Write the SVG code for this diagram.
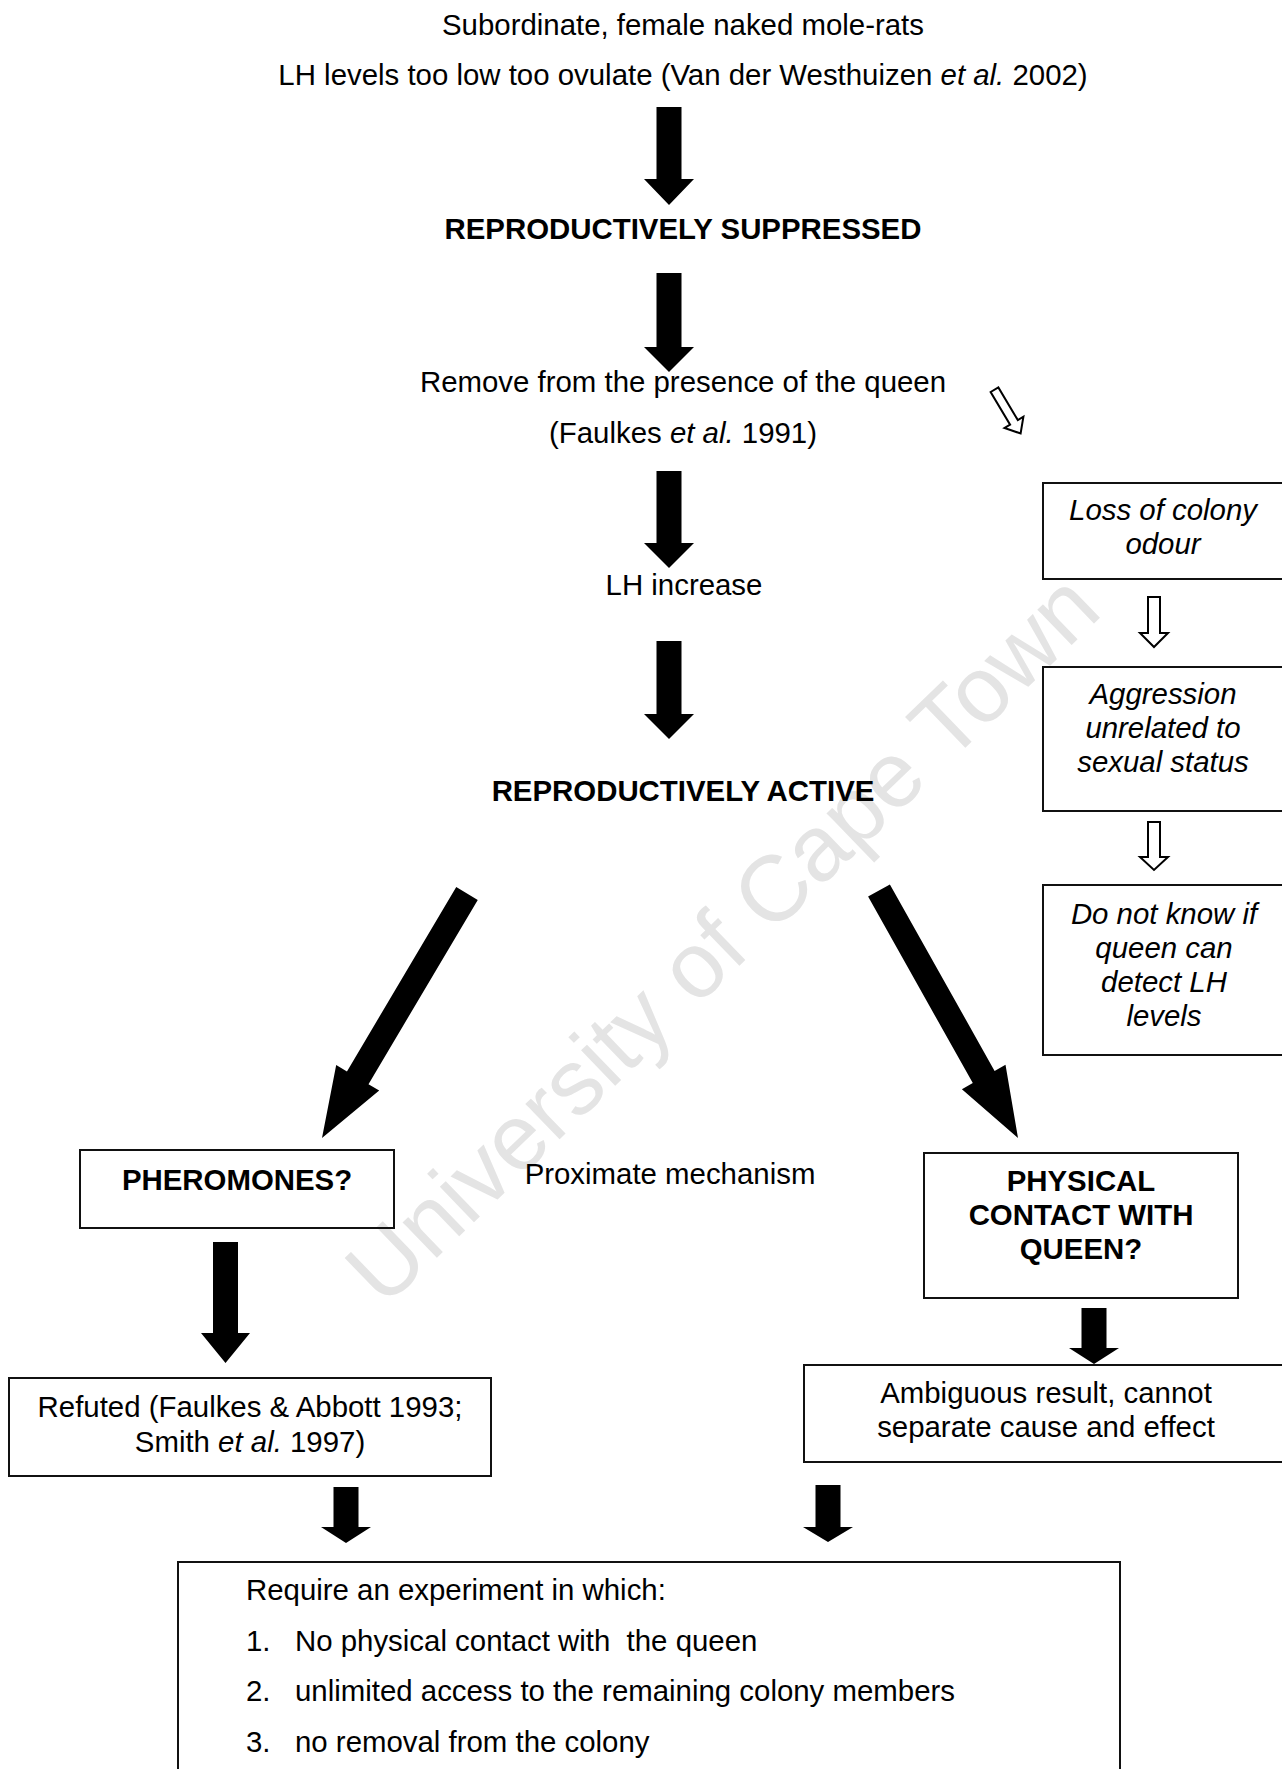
<svg xmlns="http://www.w3.org/2000/svg" width="1282" height="1769" viewBox="0 0 1282 1769">
<style>
text{font-family:"Liberation Sans",Arial,sans-serif;font-size:29.4px;fill:#000}
.c{text-anchor:middle}
.b{font-weight:bold}
.i{font-style:italic}
.box{fill:none;stroke:#111;stroke-width:2}
.solid{fill:#000;stroke:none}
.hollow{fill:#fff;stroke:#000;stroke-width:2;stroke-linejoin:miter}
.wm{font-size:93px;fill:#e4e4e4}
</style>
<rect width="1282" height="1769" fill="#fff"/>
<text class="wm" transform="translate(384,1309) rotate(-44)">University of Cape Town</text>

<g id="n-subordinate">
<text class="c" x="683" y="35">Subordinate, female naked mole-rats</text>
<text class="c" x="683" y="85">LH levels too low too ovulate (Van der Westhuizen <tspan class="i">et al.</tspan> 2002)</text>
</g>
<g id="n-suppressed"><text class="c b" x="683" y="239">REPRODUCTIVELY SUPPRESSED</text></g>
<g id="n-remove">
<text class="c" x="683" y="392">Remove from the presence of the queen</text>
<text class="c" x="683" y="443">(Faulkes <tspan class="i">et al.</tspan> 1991)</text>
</g>
<g id="n-lh"><text class="c" x="684" y="595">LH increase</text></g>
<g id="n-active"><text class="c b" x="683" y="801">REPRODUCTIVELY ACTIVE</text></g>
<g id="n-proximate"><text class="c" x="670" y="1184">Proximate mechanism</text></g>

<g id="n-loss">
<rect class="box" x="1043" y="483" width="241" height="96"/>
<text class="c i" x="1163" y="520">Loss of colony</text>
<text class="c i" x="1163" y="554">odour</text>
</g>
<g id="n-aggression">
<rect class="box" x="1043" y="667" width="241" height="144"/>
<text class="c i" x="1163" y="704">Aggression</text>
<text class="c i" x="1163" y="738">unrelated to</text>
<text class="c i" x="1163" y="772">sexual status</text>
</g>
<g id="n-donotknow">
<rect class="box" x="1043" y="885" width="241" height="170"/>
<text class="c i" x="1164" y="924">Do not know if</text>
<text class="c i" x="1164" y="958">queen can</text>
<text class="c i" x="1164" y="992">detect LH</text>
<text class="c i" x="1164" y="1026">levels</text>
</g>

<g id="n-pheromones">
<rect class="box" x="80" y="1150" width="314" height="78"/>
<text class="c b" x="237" y="1190">PHEROMONES?</text>
</g>
<g id="n-physical">
<rect class="box" x="924" y="1153" width="314" height="145"/>
<text class="c b" x="1081" y="1191">PHYSICAL</text>
<text class="c b" x="1081" y="1225">CONTACT WITH</text>
<text class="c b" x="1081" y="1259">QUEEN?</text>
</g>
<g id="n-refuted">
<rect class="box" x="9" y="1378" width="482" height="98"/>
<text class="c" x="250" y="1417">Refuted (Faulkes &amp; Abbott 1993;</text>
<text class="c" x="250" y="1452">Smith <tspan class="i">et al.</tspan> 1997)</text>
</g>
<g id="n-ambiguous">
<rect class="box" x="804" y="1365" width="484" height="97"/>
<text class="c" x="1046" y="1403">Ambiguous result, cannot</text>
<text class="c" x="1046" y="1437">separate cause and effect</text>
</g>
<g id="n-require">
<rect class="box" x="178" y="1562" width="942" height="240"/>
<text x="246" y="1600">Require an experiment in which:</text>
<text x="246" y="1651">1.</text><text x="295" y="1651" xml:space="preserve">No physical contact with  the queen</text>
<text x="246" y="1701">2.</text><text x="295" y="1701">unlimited access to the remaining colony members</text>
<text x="246" y="1752">3.</text><text x="295" y="1752">no removal from the colony</text>
</g>

<g id="connectors">
<polygon class="solid" points="656.5,107 681.5,107 681.5,179 694,179 669,205 644,179 656.5,179"/>
<polygon class="solid" points="656.5,273 681.5,273 681.5,347 694,347 669,372 644,347 656.5,347"/>
<polygon class="solid" points="656.5,471 681.5,471 681.5,543 694,543 669,568 644,543 656.5,543"/>
<polygon class="solid" points="656.5,641 681.5,641 681.5,714 694,714 669,739 644,714 656.5,714"/>
<polygon class="solid" points="477.75,899.9 368.5,1084.2 379.2,1090.6 322,1138 336.2,1065.1 346.95,1071.4 456.25,887.1"/>
<polygon class="solid" points="889.9,884.4 994.6,1070.9 1005.5,1064.7 1018,1138 961.9,1089.3 972.8,1083.1 868.1,896.6"/>
<polygon class="solid" points="213,1242 238,1242 238,1333 250,1333 225.5,1363 201,1333 213,1333"/>
<polygon class="solid" points="1081.5,1308 1106.5,1308 1106.5,1348 1119,1348 1094,1364 1069,1348 1081.5,1348"/>
<polygon class="solid" points="333.5,1487 358.5,1487 358.5,1527 371,1527 346,1543 321,1527 333.5,1527"/>
<polygon class="solid" points="815.5,1485 840.5,1485 840.5,1527 853,1527 828,1542 803,1527 815.5,1527"/>
<polygon class="hollow" transform="translate(994.5,389.7) rotate(-30.8)" points="-4.5,0 4.5,0 4.5,38 11,38 0,51 -11,38 -4.5,38"/>
<polygon class="hollow" points="1148,597 1160,597 1160,633 1168,633 1154,647 1140,633 1148,633"/>
<polygon class="hollow" points="1148,822 1160,822 1160,857 1168,857 1154,870 1140,857 1148,857"/>
</g>
</svg>
